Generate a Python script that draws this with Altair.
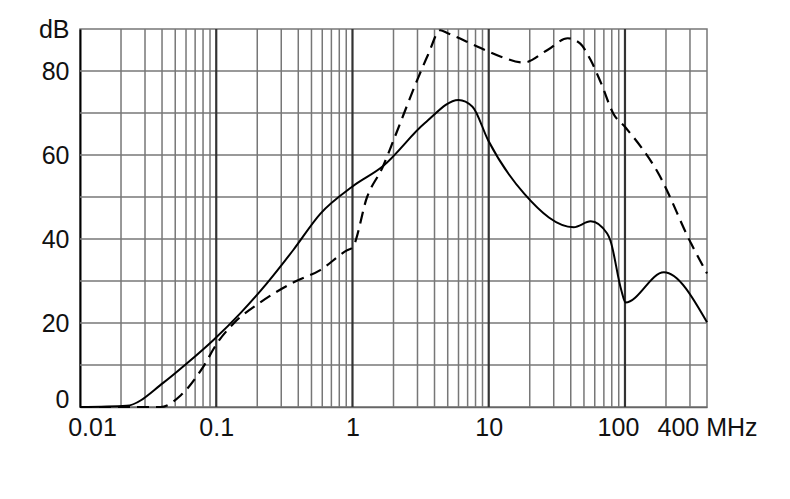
import altair as alt
import pandas as pd

# Solid curve (frequency MHz, level dB)
solid_f = [0.01, 0.022, 0.041, 0.061, 0.095, 0.15, 0.236, 0.37, 0.58, 1.0, 1.67, 3.4, 6.0, 7.6, 9.9,
           18.2, 42, 56, 74, 78, 94, 101, 193, 400]
solid_db = [0, 0.3, 5.8, 10.4, 15.9, 22.3, 29.5, 37.5, 46, 52.5, 57.3, 67.6, 73.1, 71.5, 63.5,
            50.8, 42.8, 44.2, 41.3, 39.7, 27.8, 24.9, 32.1, 20.2]

# Dashed curve
dash_f = [0.01, 0.039, 0.055, 0.08, 0.101, 0.134, 0.21, 0.37, 0.58, 0.91, 1.0, 1.28, 1.67, 2.0, 3.0, 3.6,
          4.4, 5.0, 8.3, 12.3, 18, 27, 38, 47, 56, 67, 82, 100, 176, 306, 400]
dash_db = [0, 0, 2.8, 9.5, 15.1, 19.9, 24.9, 29.7, 32.6, 37.3, 38, 50, 57.2, 63.5, 78, 84,
           89.7, 89, 85.8, 83.4, 82, 85, 87.8, 86.5, 82.6, 77, 69.9, 66.7, 55.6, 38.9, 31.8]

x_labels = [0.01, 0.1, 1, 10, 100, 400]
y_labels = [0, 20, 40, 60, 80, 90]
minor_grid = [m * 10 ** k for k in (-2, -1, 0, 1) for m in range(2, 10)] + [200, 300]
major_grid = [0.1, 1, 10, 100]
h_grid = [10, 20, 30, 40, 50, 60, 70, 80]

solid = pd.DataFrame({"f": solid_f, "db": solid_db})
dashed = pd.DataFrame({"f": dash_f, "db": dash_db})

FONT = "Liberation Sans"
xs = alt.Scale(type="log", domain=[0.01, 400], nice=False)
ys = alt.Scale(domain=[0, 90], nice=False)

x_axis = alt.Axis(
    values=x_labels, labelExpr="datum.value == 400 ? '400 MHz' : datum.value == 0.01 ? '0.01' : datum.value == 0.1 ? '0.1' : format(datum.value, 'd')",
    grid=False, ticks=False, domain=True, domainColor="#666", domainWidth=1.5,
    labelFont=FONT, labelFontSize=25, labelColor="#111", labelPadding=8, title=None,
    labelFlush=False, labelOverlap=False,
    labelOffset={"condition": [{"test": "datum.value == 0.01", "value": 12},
                               {"test": "datum.value == 100", "value": -7}], "value": 0},
)
y_axis = alt.Axis(
    values=y_labels, labelExpr="datum.value == 90 ? 'dB' : datum.value",
    grid=False, ticks=False, domain=True, domainColor="#000", domainWidth=2,
    labelFont=FONT, labelFontSize=25, labelColor="#111", labelPadding=11, title=None,
    labelFlush=False, labelOverlap=False,
    labelOffset={"condition": {"test": "datum.value == 0", "value": -8}, "value": 0},
)

hg = alt.Chart(pd.DataFrame({"v": h_grid})).mark_rule(color="#777", strokeWidth=1.5).encode(
    y=alt.Y("v:Q", scale=ys, axis=y_axis))
mg = alt.Chart(pd.DataFrame({"v": minor_grid})).mark_rule(color="#777", strokeWidth=1.5).encode(
    x=alt.X("v:Q", scale=xs, axis=x_axis))
Mg = alt.Chart(pd.DataFrame({"v": major_grid})).mark_rule(color="#333", strokeWidth=2.2).encode(
    x=alt.X("v:Q", scale=xs))

l1 = alt.Chart(solid).mark_line(color="#000", strokeWidth=2, interpolate="monotone").encode(
    x=alt.X("f:Q", scale=xs), y=alt.Y("db:Q", scale=ys))
l2 = alt.Chart(dashed).mark_line(color="#000", strokeWidth=2.2, strokeDash=[12, 7],
                                 interpolate="monotone").encode(
    x=alt.X("f:Q", scale=xs), y=alt.Y("db:Q", scale=ys))

chart = alt.layer(hg, mg, Mg, l1, l2).properties(
    width=627, height=378,
    autosize=alt.AutoSizeParams(type="none"),
    padding={"left": 72, "top": 21, "right": 70, "bottom": 60},
    background="white",
).configure_view(stroke="#777", strokeWidth=1.5)

chart.save("out.html", embed_options={"renderer": "svg", "actions": False})
